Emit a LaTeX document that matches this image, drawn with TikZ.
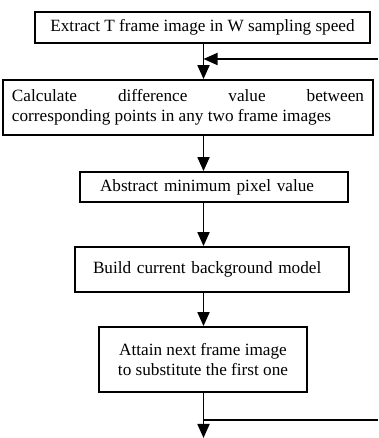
\documentclass[tikz,border=0pt]{standalone}
\usepackage{fontspec}
\setmainfont{Liberation Serif}
\usetikzlibrary{arrows.meta}
\begin{document}
\begin{tikzpicture}[x=1pt,y=1pt,
  box/.style={draw,line width=1.8pt,inner sep=0pt,font=\fontsize{17.2}{20}\selectfont},
  arr/.style={line width=1.8pt,-{Triangle[width=12pt,length=14pt]}},
  ln/.style={line width=1.8pt}]
\useasboundingbox (0,0) rectangle (378,438);
\coordinate (spine) at (203.5,0);
\node[box,minimum width=335pt,minimum height=31pt] (b1) at (202.5,410.5) {Extract T frame image in W sampling speed};
\node[box,minimum width=370pt,minimum height=55pt,align=left] (b2) at (188,330.5)
  {\makebox[352pt][s]{Calculate difference value between}\\corresponding points in any two frame images};
\node[box,minimum height=30pt,text width=228pt,inner xsep=20pt,align=left] (b3) at (214,251) {Abstract minimum pixel value};
\node[box,minimum height=45pt,text width=238pt,inner xsep=18pt,align=left] (b4) at (212,168.5) {Build current background model};
\node[box,minimum width=208pt,minimum height=65pt,align=center] (b5) at (203,78.5) {Attain next frame image\\to substitute the first one};
\coordinate (fbtop) at (378,379);
\coordinate (fbbot) at (378,18);
\coordinate (bend) at (fbbot -| spine);
\coordinate (end) at (203.5,0);
\draw[arr] (b1.south -| spine) -- (b2.north -| spine);
\draw[arr] (fbtop) -- (fbtop -| spine);
\draw[arr] (b2.south -| spine) -- (b3.north -| spine);
\draw[arr] (b3.south -| spine) -- (b4.north -| spine);
\draw[arr] (b4.south -| spine) -- (b5.north -| spine);
\draw[ln] (bend) -- (fbbot);
\draw[arr] (b5.south -| spine) -- (end);
\end{tikzpicture}
\end{document}
